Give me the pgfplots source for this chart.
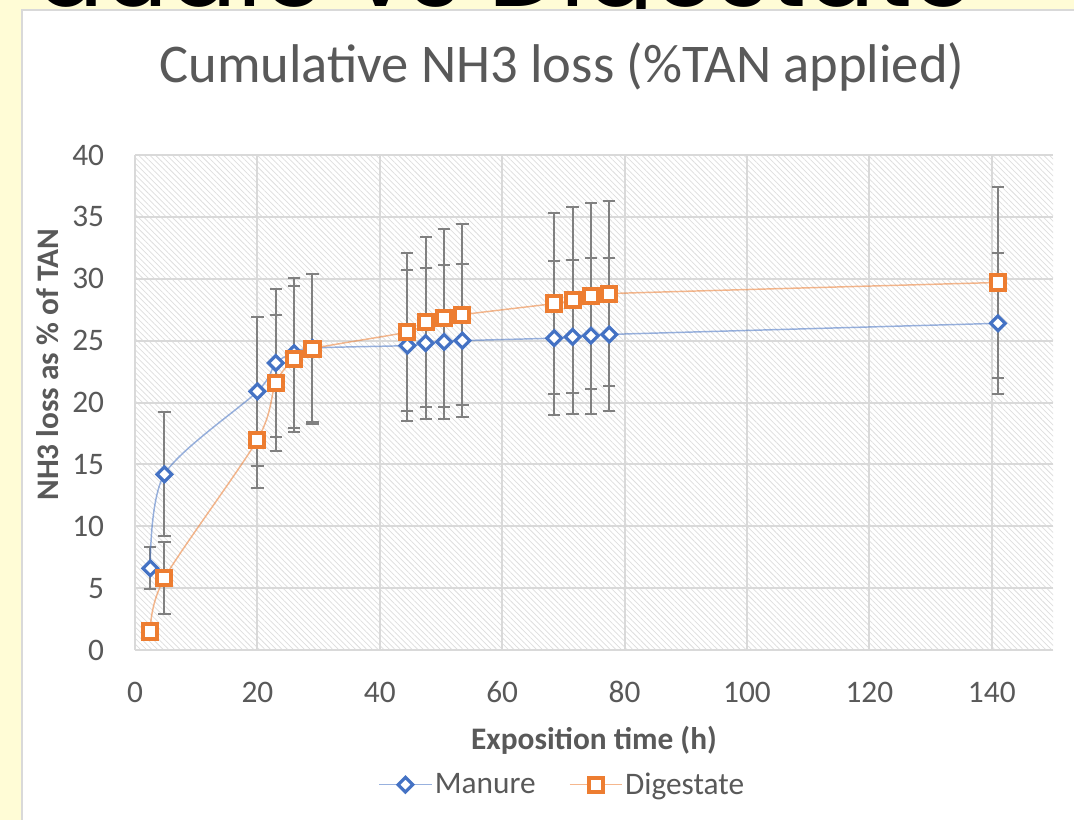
\documentclass[border=0pt]{standalone}
\usepackage{pgfplots}
\pgfplotsset{compat=1.18}
\usepackage{pgfplotstable}
\usepackage{fontspec}
\setmainfont{Carlito}
\newfontfamily\bigfont{Poppins}
\usetikzlibrary{patterns.meta}
\definecolor{txt}{HTML}{595959}
\definecolor{gridc}{HTML}{D9D9D9}
\definecolor{hatch}{HTML}{DEDEDE}
\definecolor{blueM}{HTML}{4472C4}
\definecolor{orangeD}{HTML}{ED7D31}
\definecolor{errc}{HTML}{808080}
\definecolor{slide}{HTML}{FFFCD6}

\pgfplotstableread{
x y e
2.5 6.6 1.7
4.8 14.2 5.0
20 20.9 6.0
23 23.2 6.0
26 24.0 6.1
29 24.4 6.0
44.5 24.6 6.1
47.5 24.8 6.1
50.5 24.9 6.2
53.5 25.0 6.2
68.5 25.2 6.2
71.5 25.3 6.2
74.5 25.4 6.3
77.5 25.5 6.2
141 26.4 5.7
}\manure

\pgfplotstableread{
x y e
2.5 1.5 0.0
4.8 5.8 2.9
20 17.0 3.9
23 21.6 5.5
26 23.5 5.9
29 24.35 6.05
44.5 25.7 6.4
47.5 26.5 6.9
50.5 26.8 7.2
53.5 27.1 7.3
68.5 28.0 7.3
71.5 28.3 7.5
74.5 28.6 7.5
77.5 28.8 7.5
141 29.7 7.7
}\digestate

\begin{document}
\begin{tikzpicture}
\begin{scope}[x=0.75pt,y=-0.75pt]
\useasboundingbox (0,0) rectangle (1074,820);
\fill[slide] (0,0) rectangle (1074,820);
\begin{scope}
\clip (0,0) rectangle (1074,10);
\node[anchor=base east, font=\bigfont\fontsize{76pt}{80pt}\selectfont, inner sep=0pt, text=black] at (975,7) {duale vs Digestate};
\end{scope}
\fill[white, draw=gridc, line width=1.1pt] (22,10) rectangle (1090,840);
\end{scope}

\begin{axis}[
  at={(101.25pt,-487.5pt)}, anchor=south west,
  scale only axis, width=688.5pt, height=371.25pt,
  xmin=0, xmax=150, ymin=0, ymax=40,
  xtick={0,20,...,140}, ytick={0,5,...,40},
  grid=major, major grid style={gridc, line width=1.5pt},
  axis line style={draw=none}, major tick length=0pt,
  axis background/.style={pattern={Lines[angle=-45,distance=3pt,line width=0.55pt]}, pattern color=hatch},
  tick label style={font=\fontsize{23.5pt}{28pt}\selectfont, text=txt},
  /pgf/number format/assume math mode=true,
  xticklabel style={anchor=center, yshift=-31.5pt},
  yticklabel style={anchor=east, xshift=-23pt, inner sep=0pt},
  title={Cumulative NH3 loss (\%TAN applied)},
  title style={at={(axis description cs:0.465,1.162)}, anchor=center, font=\fontsize{40.9pt}{48pt}\selectfont, text=txt},
  xlabel={Exposition time (h)},
  xlabel style={at={(axis description cs:0.5,-0.182)}, anchor=center, font=\bfseries\fontsize{23.5pt}{28pt}\selectfont, text=txt},
  ylabel={NH3 loss as \% of TAN},
  ylabel style={at={(axis description cs:-0.0948,0.576)}, anchor=center, font=\bfseries\fontsize{23.5pt}{28pt}\selectfont, text=txt},
  legend style={at={(axis description cs:0.466,-0.272)}, anchor=center, draw=none, fill=none, legend columns=2,
    font=\fontsize{23.5pt}{28pt}\selectfont, text=txt,
    /tikz/every even column/.append style={column sep=23pt}},
  legend image code/.code={\draw[mark repeat=2,mark phase=2,#1] plot coordinates {(0pt,0pt) (19.5pt,0pt) (39pt,0pt)};},
]
\addplot[forget plot, draw=none, no markers,
  error bars/.cd, y dir=both, y explicit,
  error bar style={draw=errc, line width=1.5pt},
  error mark options={draw=errc, rotate=90, mark size=4.6pt, line width=1.5pt}]
  table[x=x,y=y,y error=e]{\manure};
\addplot[forget plot, draw=none, no markers,
  error bars/.cd, y dir=both, y explicit,
  error bar style={draw=errc, line width=1.5pt},
  error mark options={draw=errc, rotate=90, mark size=4.6pt, line width=1.5pt}]
  table[x=x,y=y,y error=e]{\digestate};
\addplot[smooth, tension=0.5, color=blueM, draw opacity=0.55, line width=1.1pt,
  mark=square*, mark size=3.9pt,
  mark options={rotate=45, draw=blueM, draw opacity=1, fill=white, line width=2.4pt, solid}]
  table[x=x,y=y]{\manure};
\addlegendentry{Manure}
\addplot[smooth, tension=0.5, color=orangeD, draw opacity=0.55, line width=1.1pt,
  mark=square*, mark size=5.3pt,
  mark options={draw=orangeD, draw opacity=1, fill=white, line width=3pt, solid}]
  table[x=x,y=y]{\digestate};
\addlegendentry{Digestate}
\end{axis}
\end{tikzpicture}
\end{document}
